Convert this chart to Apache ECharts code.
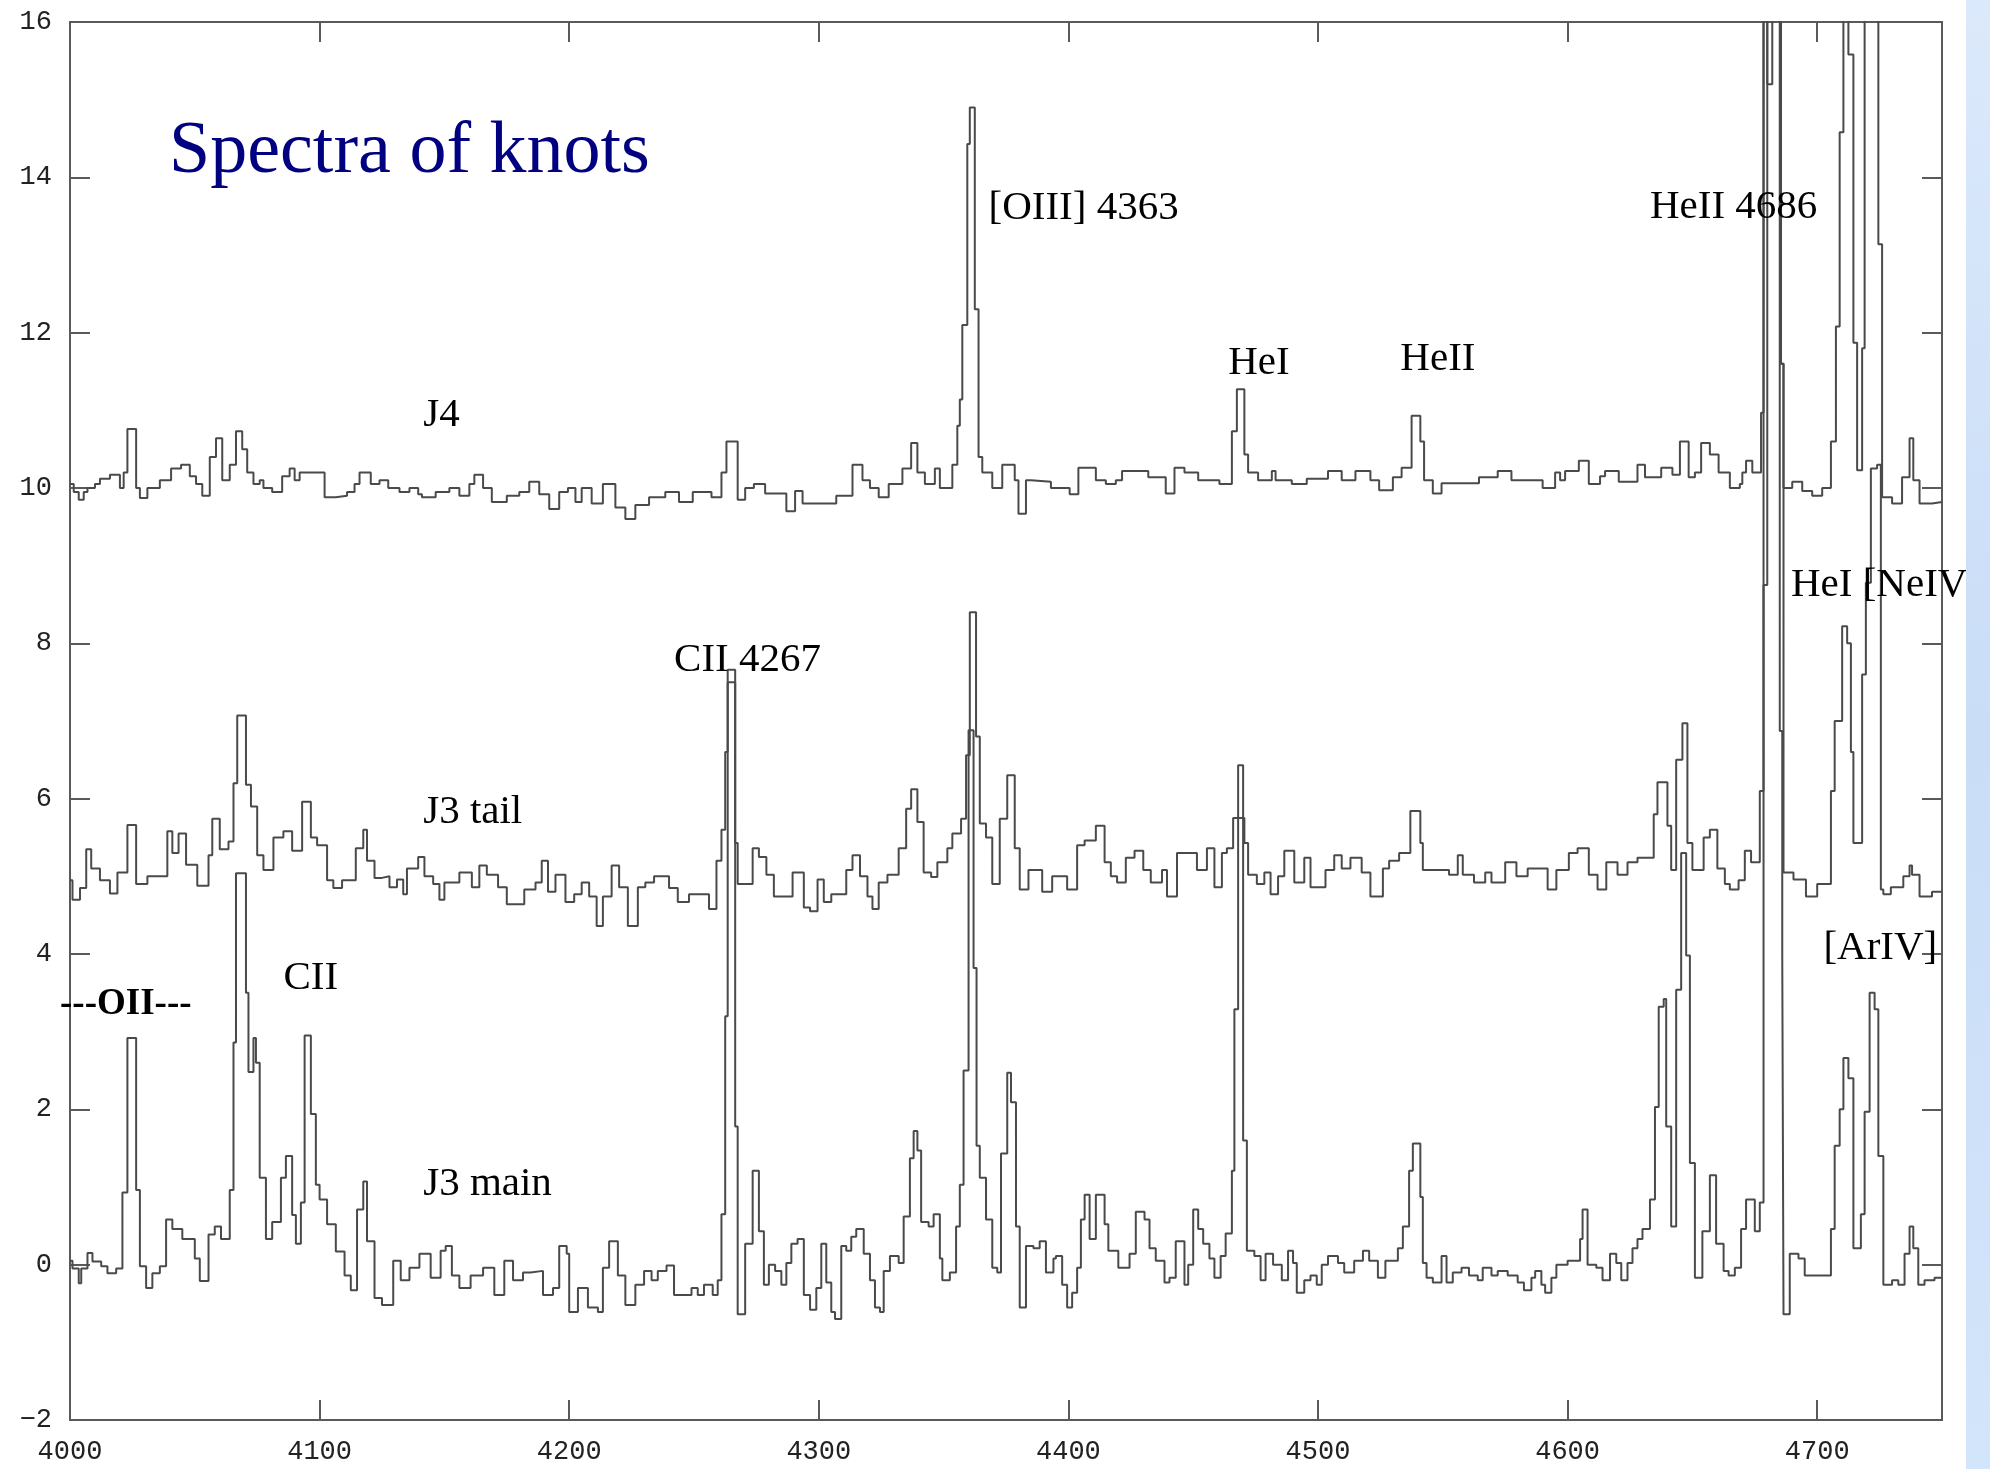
<!DOCTYPE html>
<html>
<head>
<meta charset="utf-8">
<script src="https://cdn.jsdelivr.net/npm/echarts@6/dist/echarts.min.js"></script>
<style>
  html, body { margin: 0; padding: 0; background: #fff; }
  #chart { width: 1990px; height: 1469px; }
</style>
</head>
<body>
<div id="chart"></div>
<script>
// wavelength (A) where each step starts, flux value of that step
var j4 = [
  [4000, 10.05], [4001.5, 9.95], [4003.5, 9.85], [4005.5, 9.95], [4007, 10.0], [4010, 10.05], [4012, 10.12], [4016, 10.17],
  [4020, 10.0], [4021.5, 10.2], [4023, 10.76], [4026.5, 10.0], [4028, 9.87], [4031, 10.0], [4036, 10.1], [4040.5, 10.25],
  [4044.5, 10.3], [4048, 10.15], [4050.5, 10.05], [4053, 9.9], [4056, 10.4], [4058.5, 10.64], [4061, 10.1], [4064, 10.3],
  [4066.5, 10.73], [4069, 10.5], [4071, 10.2], [4073.5, 10.05], [4076, 10.1], [4077.5, 10.0], [4081, 9.95], [4085, 10.15],
  [4088, 10.25], [4090, 10.1], [4092, 10.2], [4102, 9.88], [4106.5, 9.9], [4111, 9.95], [4114, 10.05], [4116, 10.2],
  [4120.5, 10.05], [4124, 10.1], [4127.5, 10.0], [4132, 9.95], [4136, 10.0], [4139.5, 9.92], [4141, 9.88], [4146.5, 9.95],
  [4152, 10.0], [4156, 9.9], [4160, 10.05], [4162, 10.17], [4165.5, 10.0], [4169, 9.82], [4175, 9.9], [4180, 9.95],
  [4184, 10.08], [4188, 9.92], [4192, 9.73], [4196, 9.95], [4199.5, 10.0], [4202.5, 9.82], [4205, 10.0], [4209, 9.8],
  [4213.5, 10.05], [4218.5, 9.75], [4222.5, 9.6], [4226.5, 9.78], [4232, 9.88], [4238.5, 9.95], [4244, 9.82], [4249.5, 9.95],
  [4257, 9.88], [4261, 10.2], [4263, 10.6], [4267.5, 9.85], [4270.5, 10.0], [4274, 10.05], [4278.5, 9.93], [4287, 9.7],
  [4290.5, 9.96], [4293.5, 9.8], [4307, 9.9], [4313.5, 10.3], [4317.5, 10.1], [4320.5, 10.0], [4324, 9.88], [4328, 10.05],
  [4333.5, 10.25], [4337, 10.58], [4339.5, 10.2], [4342.5, 10.05], [4346.5, 10.25], [4348.5, 10.0], [4353.5, 10.3], [4355.5, 10.8],
  [4356.5, 11.14], [4357.5, 12.1], [4359.5, 14.43], [4360.5, 14.9], [4362.5, 12.3], [4364, 10.4], [4365.5, 10.2], [4369.5, 10.0],
  [4373.5, 10.3], [4378.5, 10.1], [4380, 9.67], [4383, 10.1], [4385, 10.08], [4393, 10.0], [4400.5, 9.92], [4404, 10.26],
  [4411, 10.1], [4415, 10.05], [4419, 10.1], [4421.5, 10.22], [4432, 10.14], [4439, 9.93], [4442.5, 10.26], [4446.5, 10.2],
  [4452, 10.1], [4460.5, 10.05], [4465.5, 10.73], [4467.5, 11.27], [4470.5, 10.43], [4472, 10.2], [4476, 10.1], [4481.5, 10.22],
  [4483, 10.1], [4489.5, 10.05], [4495.5, 10.12], [4504, 10.22], [4509.5, 10.1], [4515, 10.22], [4521, 10.1], [4524.5, 9.97],
  [4530, 10.14], [4533.5, 10.26], [4537.5, 10.93], [4541, 10.6], [4542.5, 10.1], [4546, 9.93], [4549.5, 10.06], [4564.5, 10.14],
  [4572, 10.22], [4577.5, 10.1], [4590, 10.0], [4595, 10.2], [4597, 10.1], [4599, 10.22], [4604.5, 10.35], [4608.5, 10.05],
  [4613, 10.15], [4615, 10.22], [4620.5, 10.08], [4628, 10.3], [4631, 10.14], [4637.5, 10.26], [4642, 10.17], [4645, 10.6],
  [4648.5, 10.14], [4651, 10.2], [4653.5, 10.58], [4657, 10.43], [4660.5, 10.2], [4665, 10.0], [4669, 10.05], [4670, 10.2],
  [4671.5, 10.35], [4674, 10.2], [4677.5, 10.97], [4678.5, 25], [4680, 15.2], [4682, 25], [4685.5, 11.6], [4686.5, 10.0],
  [4690, 10.08], [4694, 9.96], [4698, 9.9], [4702, 10.0], [4705.5, 10.6], [4707.5, 12.08], [4709, 14.58], [4710.5, 25],
  [4712.5, 15.58], [4714.5, 11.87], [4716, 10.23], [4718, 11.8], [4719, 25], [4724.5, 13.14], [4726, 9.88], [4730, 9.8],
  [4734, 10.14], [4737, 10.64], [4738.5, 10.1], [4741, 9.8], [4746, 9.82], [4750, 9.82]
];

var j3Tail = [
  [4000, 4.95], [4001, 4.7], [4004, 4.85], [4006.5, 5.35], [4008.5, 5.1], [4012, 4.95], [4016, 4.78], [4019, 5.05],
  [4023, 5.66], [4026.5, 4.9], [4031, 5.0], [4039, 5.58], [4041, 5.3], [4043.5, 5.55], [4046.5, 5.15], [4051, 4.88],
  [4055.5, 5.27], [4057, 5.74], [4060, 5.35], [4063.5, 5.45], [4065.5, 6.2], [4067, 7.07], [4070.5, 6.18], [4072.5, 5.9],
  [4075, 5.27], [4077.5, 5.08], [4081.5, 5.5], [4085.5, 5.58], [4089, 5.33], [4093, 5.96], [4096.5, 5.5], [4099, 5.4],
  [4103, 4.95], [4105.5, 4.85], [4109, 4.95], [4114.5, 5.36], [4117.5, 5.6], [4119, 5.2], [4122, 4.98], [4125, 5.0],
  [4128, 4.86], [4131, 4.96], [4133.5, 4.77], [4135, 5.1], [4139.5, 5.25], [4142, 5.0], [4145.5, 4.9], [4148, 4.7],
  [4150, 4.92], [4156, 5.05], [4161, 4.86], [4164, 5.14], [4167, 5.02], [4171.5, 4.86], [4175, 4.64], [4182, 4.83],
  [4186.5, 4.92], [4189, 5.2], [4191.5, 4.8], [4194.5, 5.02], [4198.5, 4.67], [4202, 4.77], [4205, 4.92], [4208, 4.74],
  [4211, 4.36], [4213.5, 4.74], [4217, 5.14], [4220, 4.86], [4223.5, 4.36], [4227.5, 4.86], [4230.5, 4.92], [4234, 5.0],
  [4240, 4.85], [4243.5, 4.67], [4248, 4.77], [4256, 4.58], [4259, 5.2], [4261, 5.6], [4262.5, 6.6], [4263.5, 7.66],
  [4266.5, 5.43], [4267.5, 4.9], [4273.5, 5.36], [4276, 5.25], [4279, 5.02], [4282, 4.74], [4289.5, 5.05], [4294, 4.6],
  [4296.5, 4.55], [4299.5, 4.96], [4302, 4.67], [4305, 4.77], [4311, 5.08], [4313.5, 5.27], [4316.5, 5.0], [4319.5, 4.74],
  [4321.5, 4.58], [4324, 4.92], [4327.5, 5.02], [4332, 5.36], [4335, 5.87], [4337, 6.12], [4339.5, 5.7], [4342, 5.05],
  [4345, 4.99], [4347.5, 5.18], [4351.5, 5.36], [4353.5, 5.55], [4357, 5.74], [4359, 6.56], [4360.5, 8.4], [4363, 6.8],
  [4364.5, 5.68], [4367, 5.5], [4369.5, 4.9], [4372.5, 5.74], [4375.5, 6.3], [4378.5, 5.36], [4380.5, 4.83], [4384, 5.08],
  [4389.5, 4.8], [4393.5, 5.0], [4399.5, 4.83], [4403.5, 5.4], [4406.5, 5.46], [4411, 5.65], [4414.5, 5.18], [4417, 5.0],
  [4419.5, 4.92], [4423, 5.24], [4426.5, 5.33], [4430, 5.08], [4433, 4.92], [4437.5, 5.08], [4439.5, 4.74], [4443.5, 5.3],
  [4451.5, 5.08], [4455.5, 5.36], [4458.5, 4.86], [4461.5, 5.3], [4463.5, 5.36], [4466, 5.75], [4470.5, 5.43], [4472, 5.02],
  [4475.5, 4.9], [4478.5, 5.05], [4481, 4.77], [4484, 5.0], [4486.5, 5.33], [4490.5, 4.92], [4494.5, 5.24], [4497, 4.86],
  [4503, 5.08], [4506.5, 5.27], [4509.5, 5.1], [4513, 5.24], [4517.5, 5.05], [4521, 4.74], [4524.5, 4.74], [4526, 5.1],
  [4528.5, 5.2], [4532.5, 5.3], [4537, 5.84], [4541, 5.43], [4542, 5.08], [4552.5, 5.02], [4556, 5.27], [4558, 5.02],
  [4562.5, 4.92], [4567, 5.05], [4569.5, 4.92], [4575, 5.18], [4579.5, 5.0], [4584, 5.1], [4592, 4.83], [4595.5, 5.08],
  [4600.5, 5.3], [4604, 5.36], [4608.5, 5.02], [4612, 4.83], [4615.5, 5.18], [4620, 5.02], [4624, 5.18], [4628, 5.24],
  [4634.5, 5.8], [4636, 6.21], [4640, 5.65], [4641.5, 5.08], [4643.5, 6.5], [4646, 6.97], [4648, 5.43], [4650, 5.08],
  [4654.5, 5.5], [4657, 5.6], [4660, 5.1], [4663, 4.9], [4665, 4.83], [4668.5, 4.95], [4671, 5.33], [4673.5, 5.18],
  [4677, 6.1], [4678.5, 20], [4685.5, 11.6], [4686.5, 5.05], [4690.5, 4.96], [4695.5, 4.74], [4700, 4.9], [4705.5, 6.1],
  [4707, 7.0], [4710, 8.22], [4712, 8.0], [4713.5, 6.6], [4714.5, 5.43], [4718, 7.6], [4719.5, 8.78], [4721.5, 10.25],
  [4724, 10.3], [4725.5, 4.83], [4726.5, 4.77], [4729.5, 4.86], [4734.5, 5.0], [4737, 5.14], [4738, 5.02], [4741, 4.74],
  [4746, 4.8], [4750, 4.8]
];

var j3Main = [
  [4000, 0.05], [4001, -0.05], [4003.5, -0.24], [4004.5, -0.05], [4007, 0.15], [4009, 0.04], [4012.5, -0.02], [4015, -0.11],
  [4018.5, -0.05], [4021, 0.93], [4023, 2.92], [4026.5, 0.96], [4028, -0.02], [4030.5, -0.3], [4033, -0.11], [4036, -0.02],
  [4038.5, 0.58], [4041, 0.46], [4045, 0.33], [4050, 0.08], [4052, -0.21], [4055.5, 0.39], [4058, 0.49], [4060.5, 0.33],
  [4064, 0.96], [4065.5, 2.86], [4066.5, 5.04], [4070.5, 3.5], [4071.5, 2.48], [4073.5, 2.92], [4074.5, 2.6], [4076, 1.12],
  [4078.5, 0.33], [4081, 0.55], [4084.5, 1.12], [4086.5, 1.4], [4089, 0.64], [4090.5, 0.27], [4092.5, 0.8], [4094, 2.95],
  [4096.5, 1.94], [4098.5, 1.03], [4100, 0.84], [4103, 0.52], [4106.5, 0.17], [4110, -0.14], [4112.5, -0.33], [4115, 0.71],
  [4117.5, 1.07], [4119, 0.3], [4122, -0.43], [4125, -0.52], [4129.5, 0.05], [4132.5, -0.2], [4136, -0.04], [4140, 0.14],
  [4144.5, -0.17], [4148.5, 0.18], [4150.5, 0.24], [4153, -0.14], [4156, -0.3], [4160.5, -0.14], [4165.5, -0.04], [4170, -0.39],
  [4174, 0.05], [4177.5, -0.2], [4181.5, -0.1], [4184.5, -0.08], [4189.5, -0.39], [4193.5, -0.3], [4196, 0.24], [4199, 0.14],
  [4200, -0.61], [4203.5, -0.3], [4207.5, -0.55], [4211.5, -0.61], [4213.5, -0.04], [4216, 0.3], [4219.5, -0.14], [4222.5, -0.52],
  [4226.5, -0.26], [4230, -0.08], [4233, -0.2], [4235.5, -0.08], [4239, -0.01], [4242, -0.39], [4249, -0.3], [4251.5, -0.39],
  [4254, -0.26], [4257.5, -0.39], [4259.5, -0.2], [4261, 0.65], [4262.5, 3.2], [4263.5, 7.5], [4266.5, 1.78], [4267.5, -0.64],
  [4270.5, 0.27], [4273.5, 1.21], [4276, 0.43], [4278, -0.26], [4280, 0.0], [4282.5, -0.08], [4285, -0.26], [4287, 0.02],
  [4289, 0.27], [4291.5, 0.33], [4294, -0.39], [4296.5, -0.58], [4299, -0.3], [4301, 0.27], [4303, -0.23], [4305, -0.61],
  [4306.5, -0.7], [4309, 0.24], [4311, 0.18], [4313, 0.36], [4315, 0.46], [4318, 0.14], [4320.5, -0.2], [4322.5, -0.55],
  [4324.5, -0.61], [4326, -0.08], [4328.5, 0.11], [4332, 0.02], [4334, 0.62], [4336.5, 1.37], [4338, 1.72], [4339.5, 1.47],
  [4341, 0.55], [4344, 0.49], [4346, 0.65], [4348.5, 0.08], [4349.5, -0.2], [4352.5, -0.1], [4355, 0.49], [4356.5, 1.03],
  [4358, 2.5], [4360, 6.88], [4362, 3.82], [4363.2, 1.53], [4364.5, 1.12], [4367, 0.58], [4369.5, -0.04], [4371.5, -0.1],
  [4373, 1.43], [4375.5, 2.47], [4377, 2.09], [4379, 0.49], [4380.5, -0.55], [4383, 0.24], [4386, 0.21], [4388.5, 0.3],
  [4391, -0.1], [4394, 0.08], [4395, 0.11], [4397.5, -0.26], [4399.5, -0.55], [4401.5, -0.36], [4403.5, -0.04], [4405, 0.58],
  [4406.5, 0.9], [4408.5, 0.33], [4411, 0.9], [4414.5, 0.52], [4416, 0.18], [4420, -0.04], [4424.5, 0.14], [4427, 0.68],
  [4430.5, 0.58], [4432.5, 0.21], [4435, 0.05], [4438.5, -0.23], [4440.5, -0.17], [4443, 0.3], [4446.5, -0.26], [4448, 0.0],
  [4450, 0.71], [4452, 0.46], [4454, 0.27], [4456.5, 0.08], [4458.5, -0.17], [4461, 0.11], [4463, 0.4], [4465.5, 1.21],
  [4466.5, 3.29], [4468, 6.43], [4470, 1.6], [4471.5, 0.18], [4474.5, 0.11], [4477, -0.2], [4479, 0.14], [4482, 0.0],
  [4485.5, -0.2], [4488, 0.18], [4490, 0.02], [4491.5, -0.36], [4494.5, -0.2], [4497, -0.14], [4499.5, -0.26], [4501.5, 0.0],
  [4504, 0.11], [4508, 0.02], [4510.5, -0.1], [4514.5, 0.05], [4518, 0.18], [4520.5, 0.05], [4524, -0.17], [4527, 0.05],
  [4532, 0.21], [4534, 0.49], [4536.5, 1.21], [4538, 1.56], [4541, 0.87], [4542, 0.02], [4543.5, -0.17], [4546, -0.23],
  [4549.5, 0.11], [4551.5, -0.23], [4554, -0.1], [4557.5, -0.04], [4560.5, -0.14], [4564, -0.2], [4566, -0.04], [4569.5, -0.14],
  [4572, -0.08], [4576, -0.14], [4580, -0.23], [4582.5, -0.33], [4585.5, -0.17], [4587, -0.08], [4589.5, -0.26], [4591, -0.36],
  [4593.5, -0.17], [4595.5, 0.0], [4600, 0.05], [4605, 0.33], [4606, 0.71], [4608, 0.0], [4611.5, -0.04], [4614, -0.2],
  [4617, 0.14], [4619.5, 0.02], [4621.5, -0.2], [4624, 0.02], [4626, 0.21], [4628, 0.33], [4630, 0.46], [4633, 0.84],
  [4635, 2.03], [4636.5, 3.32], [4638.5, 3.42], [4639.5, 1.78], [4641.5, 0.49], [4643.5, 3.54], [4645.5, 5.3], [4647.5, 3.98],
  [4649, 1.31], [4651, -0.17], [4654, 0.43], [4657, 1.15], [4659.5, 0.27], [4662.5, -0.08], [4664.5, -0.14], [4667, -0.04],
  [4669.5, 0.46], [4671.5, 0.84], [4675, 0.43], [4677, 0.8], [4678.5, 8.75], [4680, 20], [4685, 6.87], [4686, 3.98],
  [4686.5, -0.64], [4689, 0.14], [4692.5, 0.08], [4695, -0.14], [4705.5, 0.46], [4707, 1.53], [4709, 2.0], [4710.5, 2.66],
  [4712.5, 2.4], [4714.5, 0.21], [4717.5, 0.65], [4719, 1.97], [4721, 3.5], [4723, 3.29], [4724.5, 1.4], [4726.5, -0.26],
  [4730, -0.2], [4732.5, -0.26], [4735, 0.14], [4737, 0.49], [4738.5, 0.21], [4740.5, -0.26], [4743, -0.2], [4747, -0.17],
  [4750, -0.17]
];

// line identifications: text, wavelength, flux at the text's left/middle
var notes = [
  ['[OIII] 4363', 4368, 13.6],
  ['HeI', 4464, 11.6],
  ['HeII', 4533, 11.66],
  ['HeII 4686', 4633, 13.62],
  ['J4', 4141.5, 10.94],
  ['HeI [NeIV]', 4689.5, 8.75],
  ['CII 4267', 4242, 7.78],
  ['J3 tail', 4141.5, 5.82],
  ['[ArIV]', 4702.5, 4.08],
  ['CII', 4085.5, 3.69],
  ['J3 main', 4141.5, 1.04]
];
var oiiNote = ['---OII---', 3996, 3.35];

var chart = echarts.init(document.getElementById('chart'));

var frameColor = '#5a5a5a';
var lineColor = '#4a4a4a';

function spectrum(name, data) {
  return {
    name: name,
    type: 'line',
    step: 'end',
    data: data,
    symbol: 'none',
    clip: true,
    lineStyle: { color: lineColor, width: 2 },
    animation: false
  };
}

var tickLabel = {
  color: '#222', fontFamily: 'Liberation Mono', fontSize: 27,
  formatter: function (v) { return String(v).replace('-', '\u2212'); }
};

chart.setOption({
  backgroundColor: '#fff',
  animation: false,
  grid: { left: 70, right: 48, top: 22, bottom: 49, show: true, borderColor: frameColor, borderWidth: 2 },
  xAxis: [
    {
      type: 'value', min: 4000, max: 4750, interval: 100, position: 'bottom',
      axisLine: { show: true, onZero: false, lineStyle: { color: frameColor, width: 2 } },
      axisTick: { show: true, inside: true, length: 20, lineStyle: { color: frameColor, width: 2 } },
      axisLabel: Object.assign({ margin: 18, showMaxLabel: false }, tickLabel),
      splitLine: { show: false }
    },
    {
      type: 'value', min: 4000, max: 4750, interval: 100, position: 'top',
      axisLine: { show: true, onZero: false, lineStyle: { color: frameColor, width: 2 } },
      axisTick: { show: true, inside: true, length: 20, lineStyle: { color: frameColor, width: 2 } },
      axisLabel: { show: false },
      splitLine: { show: false }
    }
  ],
  yAxis: [
    {
      type: 'value', min: -2, max: 16, interval: 2, position: 'left',
      axisLine: { show: true, onZero: false, lineStyle: { color: frameColor, width: 2 } },
      axisTick: { show: true, inside: true, length: 20, lineStyle: { color: frameColor, width: 2 } },
      axisLabel: Object.assign({ margin: 18 }, tickLabel),
      splitLine: { show: false }
    },
    {
      type: 'value', min: -2, max: 16, interval: 2, position: 'right',
      axisLine: { show: true, onZero: false, lineStyle: { color: frameColor, width: 2 } },
      axisTick: { show: true, inside: true, length: 20, lineStyle: { color: frameColor, width: 2 } },
      axisLabel: { show: false },
      splitLine: { show: false }
    }
  ],
  series: [
    spectrum('J4', j4),
    spectrum('J3 tail', j3Tail),
    spectrum('J3 main', j3Main)
  ]
});

// texts placed in data coordinates
var graphics = [];
notes.forEach(function (n) {
  var p = chart.convertToPixel({ gridIndex: 0 }, [n[1], n[2]]);
  graphics.push({
    type: 'text', x: p[0], y: p[1], z: 10,
    style: { text: n[0], fill: '#000', font: '41px "Liberation Serif"', textAlign: 'left', textVerticalAlign: 'middle' }
  });
});
var po = chart.convertToPixel({ gridIndex: 0 }, [oiiNote[1], oiiNote[2]]);
graphics.push({
  type: 'text', x: po[0], y: po[1], z: 10,
  style: { text: oiiNote[0], fill: '#000', font: 'bold 37px "Liberation Serif"', textAlign: 'left', textVerticalAlign: 'middle' }
});
graphics.push({
  type: 'text', x: 169, y: 153, z: 10,
  style: { text: 'Spectra of knots', fill: '#000080', font: '74px "Liberation Serif"', textAlign: 'left', textVerticalAlign: 'middle' }
});
// slide's blue edge strip
graphics.push({
  type: 'rect', z: 20,
  shape: { x: 1966, y: 0, width: 24, height: 1469 },
  style: {
    fill: new echarts.graphic.LinearGradient(0, 0, 0, 1, [
      { offset: 0, color: '#dbe9fb' },
      { offset: 0.5, color: '#c9ddf7' },
      { offset: 1, color: '#d3e5fa' }
    ])
  }
});
chart.setOption({ graphic: graphics });
</script>
</body>
</html>
